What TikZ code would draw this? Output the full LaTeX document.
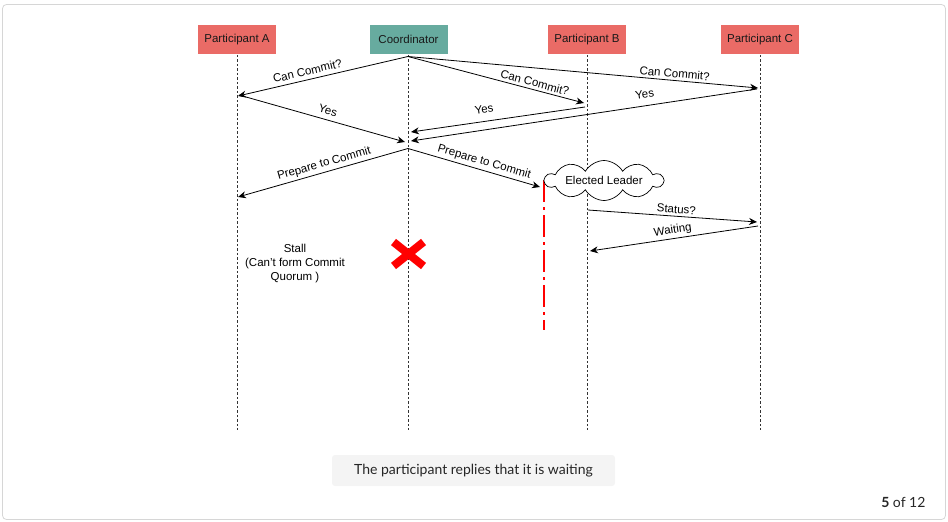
\documentclass[tikz,border=0pt]{standalone}
\usepackage{fontspec}
\setmainfont{Liberation Sans}
\newfontfamily\capfont{Lato}
\usetikzlibrary{arrows.meta,shapes.symbols,calc}
\definecolor{partred}{HTML}{EA6B66}
\definecolor{coordgreen}{HTML}{67AB9F}
\definecolor{capgray}{HTML}{F4F4F4}
\definecolor{framegray}{HTML}{D6D6D6}
\begin{document}
\begin{tikzpicture}[x=1pt,y=-1pt,
  head/.style={draw=white,line width=0.6pt,minimum width=79pt,minimum height=30pt,inner sep=0pt,font=\fontsize{11.5}{13}\selectfont,text=black!90},
  life/.style={densely dashed,line width=0.7pt,black!80,dash pattern=on 2.5pt off 2pt},
  msg/.style={-{Stealth[length=8pt,width=7pt]},line width=0.8pt},
  lbl/.style={font=\fontsize{11.5}{13}\selectfont,sloped,above,inner sep=2.5pt}]
\useasboundingbox (0,0) rectangle (948,522);
\draw[framegray,line width=0.8pt,rounded corners=4pt] (2.5,4.5) rectangle (945.5,519.5);
% heads
\node[head,fill=partred] (A) at (237,39.5) {Participant A};
\node[head,fill=coordgreen] (K) at (408.5,39.5) {Coordinator};
\node[head,fill=partred] (B) at (587,39.5) {Participant B};
\node[head,fill=partred] (C) at (760,39.5) {Participant C};
% lifeline ends
\coordinate (Ae) at (237,430);
\coordinate (Ke) at (408.5,430);
\coordinate (Be) at (587,430);
\coordinate (Ce) at (760,430);
\draw[life] (A.south) -- (Ae);
\draw[life] (K.south) -- (Ke);
\draw[life] (B.south) -- (Be);
\draw[life] (C.south) -- (Ce);
% message points
\coordinate (k1) at (408,56.5);
\coordinate (a1) at (238,96);
\coordinate (b1) at (584,103);
\coordinate (c1) at (758,88);
\coordinate (a2) at (239,95);
\coordinate (k2) at (405,142);
\coordinate (b2) at (585,107);
\coordinate (k3) at (411,132);
\coordinate (c2) at (757,89);
\coordinate (k4) at (411,141);
\coordinate (k5) at (408,148.5);
\coordinate (a3) at (238,197);
\coordinate (x1) at (540,187);
\coordinate (b3) at (588,210);
\coordinate (c3) at (757,222);
\coordinate (c4) at (758,226);
\coordinate (b4) at (590,251);
\draw[msg] (k1) -- node[lbl,pos=0.58,inner sep=4pt] {Can Commit?} (a1);
\draw[msg] (k1) -- node[lbl,pos=0.71] {Can Commit?} (b1);
\draw[msg] (k1) -- node[lbl,pos=0.76] {Can Commit?} (c1);
\draw[msg] (a2) -- node[lbl,pos=0.52,inner sep=5pt] {Yes} (k2);
\draw[msg] (b2) -- node[lbl,pos=0.57,inner sep=8pt] {Yes} (k3);
\draw[msg] (c2) -- node[lbl,pos=0.32,inner sep=7pt] {Yes} (k4);
\draw[msg] (k5) -- node[lbl,pos=0.48] {Prepare to Commit} (a3);
\draw[msg] (k5) -- node[lbl,pos=0.56] {Prepare to Commit} (x1);
\draw[msg] (b3) -- node[lbl,pos=0.52] {Status?} (c3);
\draw[msg] (c4) -- node[lbl,pos=0.5] {Waiting} (b4);
% partition line
\coordinate (p1) at (544,180);
\coordinate (p2) at (544,330);
\draw[red,line width=2.8pt,dash pattern=on 22pt off 5pt on 3pt off 5pt] (p1) -- (p2);
% cloud
\node[cloud,cloud ignores aspect,draw,fill=white,line width=0.7pt,cloud puffs=10,cloud puff arc=120,minimum width=118pt,minimum height=40pt,inner xsep=-6pt,inner ysep=0pt,font=\fontsize{11.5}{13}\selectfont] (L) at (604,180.5) {Elected Leader};
% red X
\coordinate (x0) at (408.5,254);
\draw[red,line width=8pt] ($(x0)+(-15,-12)$) -- ($(x0)+(15,12)$);
\draw[red,line width=8pt] ($(x0)+(15,-12)$) -- ($(x0)+(-15,12)$);
% stall text
\node[align=center,font=\fontsize{11.5}{14}\selectfont] (S) at (295,264) {Stall\\(Can't form Commit\\Quorum )};
% caption
\node[fill=capgray,rounded corners=3pt,minimum width=283pt,minimum height=31pt,font=\capfont\fontsize{14}{16}\selectfont,text=black!85] (cap) at (473.5,470.5) {The participant replies that it is waiting};
\node[anchor=east,font=\capfont\fontsize{14}{16}\selectfont,text=black!85] (pg) at (929,502) {\textbf{5} of 12};
\end{tikzpicture}
\end{document}
